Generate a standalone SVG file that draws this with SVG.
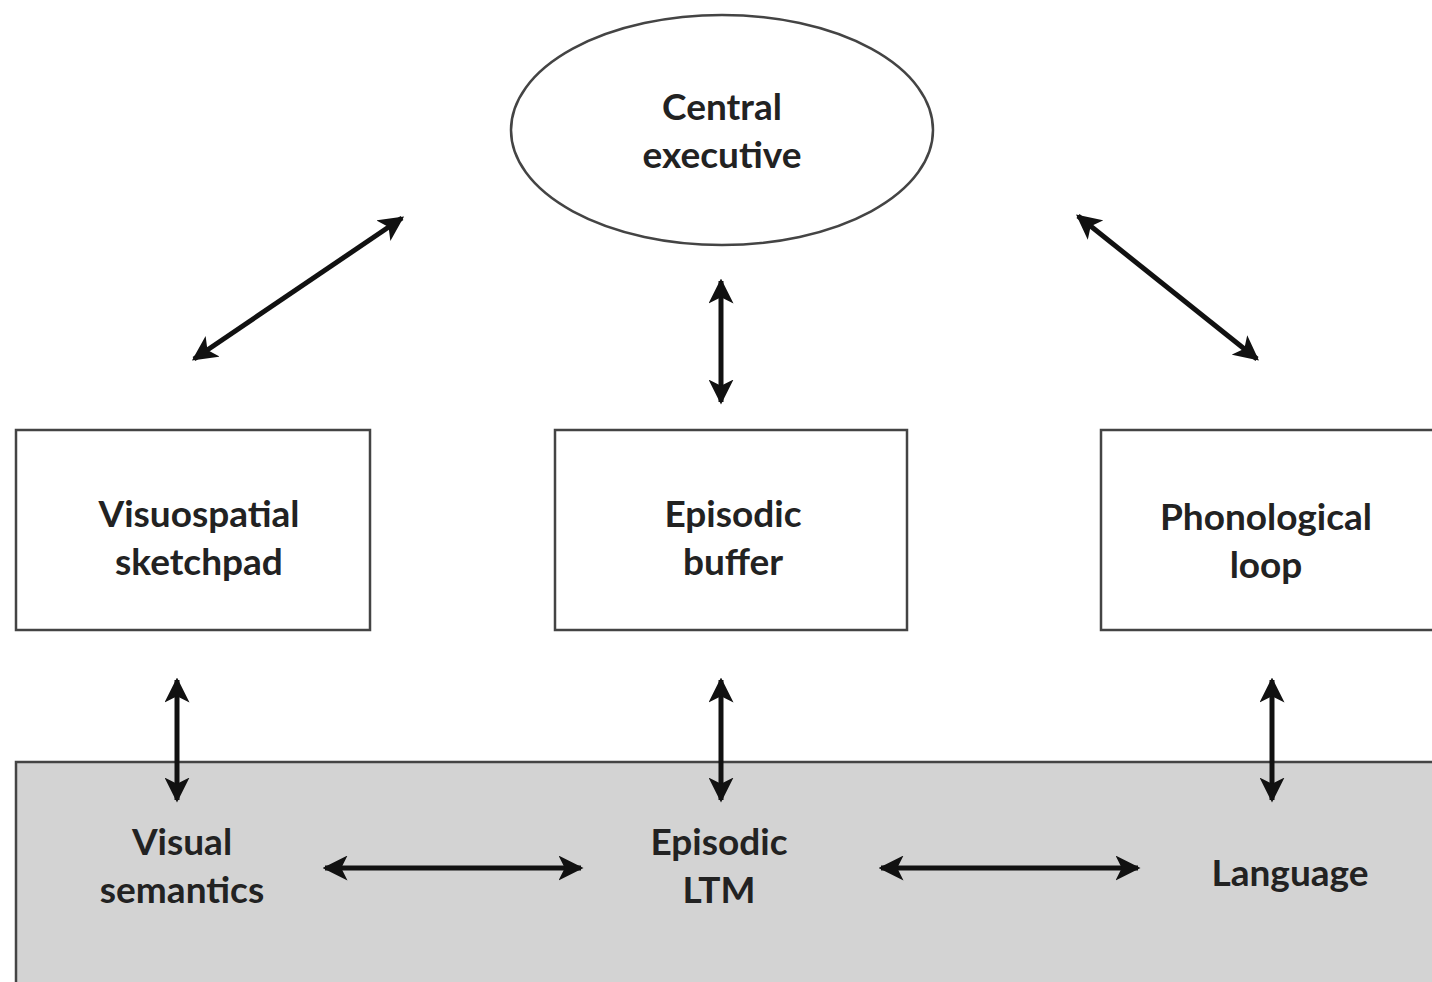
<svg xmlns="http://www.w3.org/2000/svg" width="1432" height="982" viewBox="0 0 1432 982">
<defs>
<marker id="ah" viewBox="0 0 10 10" refX="9" refY="5" markerWidth="5" markerHeight="5" orient="auto-start-reverse" markerUnits="strokeWidth">
<path d="M0,0 L10,5 L0,10 L2.5,5 Z" fill="#111"/>
</marker>
</defs>
<style>
.box{fill:#fff;stroke:#444;stroke-width:2.5}
.grey{fill:#d3d3d3;stroke:#444;stroke-width:2.5}
.lbl{font-family:"Lato","Open Sans",sans-serif;font-weight:bold;font-size:37px;fill:#222;text-anchor:middle}
.arr{stroke:#111;stroke-width:5;fill:none;marker-start:url(#ah);marker-end:url(#ah)}
</style>
<rect width="1432" height="982" fill="#fff"/>
<g id="ltm">
<rect class="grey" x="16" y="762" width="1430" height="240"/>
</g>
<g id="central-executive">
<ellipse class="box" cx="722" cy="130" rx="211" ry="115"/>
<text class="lbl" x="722" y="120">Central</text>
<text class="lbl" x="722" y="168">executive</text>
</g>
<g id="visuospatial">
<rect class="box" x="16" y="430" width="354" height="200"/>
<text class="lbl" x="199" y="527">Visuospatial</text>
<text class="lbl" x="199" y="575">sketchpad</text>
</g>
<g id="episodic-buffer">
<rect class="box" x="555" y="430" width="352" height="200"/>
<text class="lbl" x="733" y="527">Episodic</text>
<text class="lbl" x="733" y="575">buffer</text>
</g>
<g id="phonological">
<rect class="box" x="1101" y="430" width="345" height="200"/>
<text class="lbl" x="1266" y="530">Phonological</text>
<text class="lbl" x="1266" y="578">loop</text>
</g>
<g id="visual-semantics">
<text class="lbl" x="182" y="855">Visual</text>
<text class="lbl" x="182" y="903">semantics</text>
</g>
<g id="episodic-ltm">
<text class="lbl" x="719" y="855">Episodic</text>
<text class="lbl" x="719" y="903">LTM</text>
</g>
<g id="language">
<text class="lbl" x="1290" y="886">Language</text>
</g>
<g id="connectors">
<line class="arr" x1="194" y1="359" x2="402" y2="218"/>
<line class="arr" x1="1078" y1="216" x2="1257" y2="359"/>
<line class="arr" x1="721" y1="281" x2="721" y2="402"/>
<line class="arr" x1="177" y1="680" x2="177" y2="800"/>
<line class="arr" x1="721" y1="680" x2="721" y2="800"/>
<line class="arr" x1="1272" y1="680" x2="1272" y2="800"/>
<line class="arr" x1="325" y1="868" x2="581" y2="868"/>
<line class="arr" x1="881" y1="868" x2="1138" y2="868"/>
</g>
</svg>
